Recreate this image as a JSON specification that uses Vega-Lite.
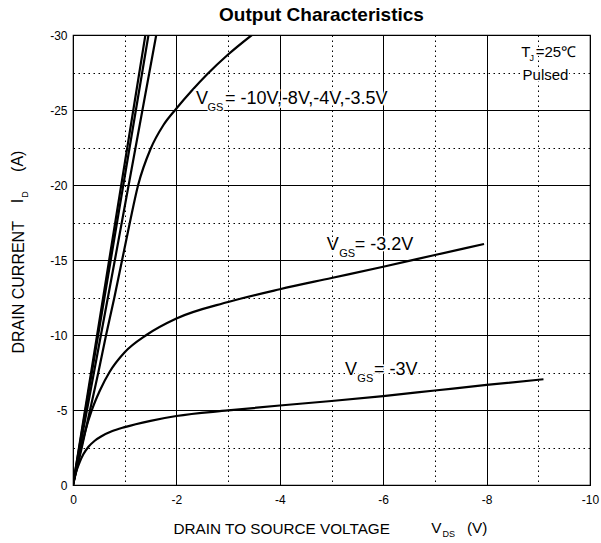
{
  "$schema": "https://vega.github.io/schema/vega-lite/v6.json",
  "width": 517,
  "height": 450,
  "autosize": {"type": "none"},
  "padding": {"left": 73, "top": 35, "right": 11, "bottom": 58},
  "background": "white",
  "title": {"text": "Output Characteristics", "fontSize": 19, "fontWeight": "bold", "font": "Liberation Sans", "color": "black", "dx": -10, "offset": 4, "anchor": "middle"},
  "config": {
    "view": {"stroke": "black", "strokeWidth": 1.2},
    "font": "Liberation Sans"
  },
  "datasets": {
    "curves": [
      {"series": "-10V", "vds": 0, "id": 0},
      {"series": "-10V", "vds": -0.70, "id": -15},
      {"series": "-10V", "vds": -1.40, "id": -30},
      {"series": "-8V", "vds": 0, "id": 0},
      {"series": "-8V", "vds": -0.73, "id": -15},
      {"series": "-8V", "vds": -1.46, "id": -30},
      {"series": "-4V", "vds": 0, "id": 0},
      {"series": "-4V", "vds": -0.81, "id": -15},
      {"series": "-4V", "vds": -1.61, "id": -30},
      {"series": "-3.5V", "vds": 0, "id": 0},
      {"series": "-3.5V", "vds": -0.17, "id": -2.5},
      {"series": "-3.5V", "vds": -0.33, "id": -5},
      {"series": "-3.5V", "vds": -0.49, "id": -7.5},
      {"series": "-3.5V", "vds": -0.64, "id": -10},
      {"series": "-3.5V", "vds": -0.80, "id": -12.5},
      {"series": "-3.5V", "vds": -0.95, "id": -15},
      {"series": "-3.5V", "vds": -1.10, "id": -17.5},
      {"series": "-3.5V", "vds": -1.26, "id": -20},
      {"series": "-3.5V", "vds": -1.50, "id": -22.4},
      {"series": "-3.5V", "vds": -1.75, "id": -24.0},
      {"series": "-3.5V", "vds": -2.00, "id": -25.1},
      {"series": "-3.5V", "vds": -2.30, "id": -26.3},
      {"series": "-3.5V", "vds": -2.60, "id": -27.4},
      {"series": "-3.5V", "vds": -3.00, "id": -28.7},
      {"series": "-3.5V", "vds": -3.46, "id": -30},
      {"series": "-3.2V", "vds": 0, "id": 0},
      {"series": "-3.2V", "vds": -0.10, "id": -1.6},
      {"series": "-3.2V", "vds": -0.23, "id": -3.5},
      {"series": "-3.2V", "vds": -0.36, "id": -4.95},
      {"series": "-3.2V", "vds": -0.52, "id": -6.3},
      {"series": "-3.2V", "vds": -0.71, "id": -7.55},
      {"series": "-3.2V", "vds": -1.00, "id": -8.85},
      {"series": "-3.2V", "vds": -1.42, "id": -10.0},
      {"series": "-3.2V", "vds": -2.00, "id": -11.1},
      {"series": "-3.2V", "vds": -3.00, "id": -12.2},
      {"series": "-3.2V", "vds": -4.00, "id": -13.05},
      {"series": "-3.2V", "vds": -5.00, "id": -13.8},
      {"series": "-3.2V", "vds": -6.00, "id": -14.55},
      {"series": "-3.2V", "vds": -7.00, "id": -15.33},
      {"series": "-3.2V", "vds": -7.95, "id": -16.07},
      {"series": "-3V", "vds": 0, "id": 0},
      {"series": "-3V", "vds": -0.05, "id": -0.75},
      {"series": "-3V", "vds": -0.12, "id": -1.45},
      {"series": "-3V", "vds": -0.20, "id": -2.05},
      {"series": "-3V", "vds": -0.30, "id": -2.55},
      {"series": "-3V", "vds": -0.42, "id": -2.95},
      {"series": "-3V", "vds": -0.56, "id": -3.27},
      {"series": "-3V", "vds": -0.75, "id": -3.58},
      {"series": "-3V", "vds": -1.00, "id": -3.86},
      {"series": "-3V", "vds": -1.50, "id": -4.28},
      {"series": "-3V", "vds": -2.00, "id": -4.6},
      {"series": "-3V", "vds": -3.00, "id": -4.97},
      {"series": "-3V", "vds": -4.00, "id": -5.3},
      {"series": "-3V", "vds": -5.00, "id": -5.6},
      {"series": "-3V", "vds": -6.00, "id": -5.93},
      {"series": "-3V", "vds": -7.00, "id": -6.3},
      {"series": "-3V", "vds": -8.00, "id": -6.67},
      {"series": "-3V", "vds": -9.10, "id": -7.05}
    ],
    "bigLabels": [
      {"vds": -2.38, "id": -25.4, "label": "V"},
      {"vds": -2.94, "id": -25.4, "label": "= -10V,-8V,-4V,-3.5V"},
      {"vds": -4.91, "id": -15.67, "label": "V"},
      {"vds": -5.45, "id": -15.67, "label": "= -3.2V"},
      {"vds": -5.26, "id": -7.33, "label": "V"},
      {"vds": -5.82, "id": -7.33, "label": "= -3V"}
    ],
    "bigSubs": [
      {"vds": -2.60, "id": -24.93, "label": "GS"},
      {"vds": -5.15, "id": -15.22, "label": "GS"},
      {"vds": -5.50, "id": -6.89, "label": "GS"}
    ],
    "cond": [
      {"vds": -8.67, "id": -28.53, "label": "T"},
      {"vds": -8.95, "id": -28.53, "label": "=25℃"}
    ],
    "condSub": [
      {"vds": -8.83, "id": -28.3, "label": "J"}
    ],
    "pulsed": [
      {"vds": -9.14, "id": -27.0, "label": "Pulsed"}
    ],
    "xTitleParts": [
      {"vds": -6.93, "id": 3.2, "label": "V"},
      {"vds": -7.62, "id": 3.2, "label": "(V)"}
    ],
    "xSub": [
      {"vds": -7.27, "id": 3.47, "label": "DS"}
    ],
    "yTitleParts": [
      {"vds": 0.967, "id": -18.79, "label": "I"},
      {"vds": 0.967, "id": -20.87, "label": "(A)"}
    ],
    "ySub": [
      {"vds": 0.87, "id": -19.37, "label": "D"}
    ]
  },
  "encoding": {
    "x": {
      "field": "vds", "type": "quantitative",
      "scale": {"domain": [0, -10], "nice": false, "zero": false},
      "axis": {
        "values": [0, -1, -2, -3, -4, -5, -6, -7, -8, -9, -10],
        "grid": true, "gridColor": "black", "gridOpacity": 1, "gridWidth": 1,
        "gridDash": {"condition": {"test": "datum.value % 2 === 0", "value": []}, "value": [1.5, 3.5]},
        "ticks": false, "tickSize": 0, "domain": false,
        "labelExpr": "datum.value % 2 === 0 ? '' + datum.value : ''",
        "labelFont": "Liberation Sans", "labelFontSize": 12, "labelColor": "black",
        "labelBaseline": "alphabetic", "labelPadding": 18, "labelFlush": false, "labelOverlap": false,
        "title": "DRAIN TO SOURCE VOLTAGE",
        "titleFont": "Liberation Sans", "titleFontSize": 15.3, "titleFontWeight": "normal", "titleColor": "black",
        "titleBaseline": "alphabetic", "titleAlign": "left", "titleX": 100, "titleY": 48
      }
    },
    "y": {
      "field": "id", "type": "quantitative",
      "scale": {"domain": [0, -30], "nice": false, "zero": false},
      "axis": {
        "values": [0, -2.5, -5, -7.5, -10, -12.5, -15, -17.5, -20, -22.5, -25, -27.5, -30],
        "grid": true, "gridColor": "black", "gridOpacity": 1, "gridWidth": 1,
        "gridDash": {"condition": {"test": "datum.value % 5 === 0", "value": []}, "value": [1.5, 3.5]},
        "ticks": false, "tickSize": 0, "domain": false,
        "labelExpr": "datum.value % 5 === 0 ? '' + datum.value : ''",
        "labelFont": "Liberation Sans", "labelFontSize": 12, "labelColor": "black",
        "labelPadding": 6, "labelFlush": false, "labelOverlap": false,
        "title": "DRAIN CURRENT",
        "titleFont": "Liberation Sans", "titleFontSize": 16, "titleFontWeight": "normal", "titleColor": "black",
        "titleAngle": 270, "titleBaseline": "alphabetic", "titleAlign": "left", "titleX": -50, "titleY": 318
      }
    }
  },
  "layer": [
    {
      "data": {"name": "curves"},
      "mark": {"type": "line", "color": "black", "strokeWidth": 2.2, "interpolate": "monotone", "clip": true},
      "encoding": {"detail": {"field": "series", "type": "nominal"}}
    },
    {
      "data": {"name": "bigLabels"},
      "mark": {"type": "text", "align": "left", "baseline": "alphabetic", "fontSize": 18, "font": "Liberation Sans", "color": "white", "stroke": "white", "strokeWidth": 3},
      "encoding": {"text": {"field": "label"}}
    },
    {
      "data": {"name": "bigSubs"},
      "mark": {"type": "text", "align": "left", "baseline": "alphabetic", "fontSize": 11, "font": "Liberation Sans", "color": "white", "stroke": "white", "strokeWidth": 3},
      "encoding": {"text": {"field": "label"}}
    },
    {
      "data": {"name": "cond"},
      "mark": {"type": "text", "align": "left", "baseline": "alphabetic", "fontSize": 15, "font": "Liberation Sans", "color": "white", "stroke": "white", "strokeWidth": 3},
      "encoding": {"text": {"field": "label"}}
    },
    {
      "data": {"name": "pulsed"},
      "mark": {"type": "text", "align": "center", "baseline": "alphabetic", "fontSize": 15, "font": "Liberation Sans", "color": "white", "stroke": "white", "strokeWidth": 3},
      "encoding": {"text": {"field": "label"}}
    },
    {
      "data": {"name": "bigLabels"},
      "mark": {"type": "text", "align": "left", "baseline": "alphabetic", "fontSize": 18, "font": "Liberation Sans", "color": "black"},
      "encoding": {"text": {"field": "label"}}
    },
    {
      "data": {"name": "bigSubs"},
      "mark": {"type": "text", "align": "left", "baseline": "alphabetic", "fontSize": 11, "font": "Liberation Sans", "color": "black"},
      "encoding": {"text": {"field": "label"}}
    },
    {
      "data": {"name": "cond"},
      "mark": {"type": "text", "align": "left", "baseline": "alphabetic", "fontSize": 15, "font": "Liberation Sans", "color": "black"},
      "encoding": {"text": {"field": "label"}}
    },
    {
      "data": {"name": "condSub"},
      "mark": {"type": "text", "align": "left", "baseline": "alphabetic", "fontSize": 9, "font": "Liberation Sans", "color": "black"},
      "encoding": {"text": {"field": "label"}}
    },
    {
      "data": {"name": "pulsed"},
      "mark": {"type": "text", "align": "center", "baseline": "alphabetic", "fontSize": 15, "font": "Liberation Sans", "color": "black"},
      "encoding": {"text": {"field": "label"}}
    },
    {
      "data": {"name": "xTitleParts"},
      "mark": {"type": "text", "align": "left", "baseline": "alphabetic", "fontSize": 15.3, "font": "Liberation Sans", "color": "black"},
      "encoding": {"text": {"field": "label"}}
    },
    {
      "data": {"name": "xSub"},
      "mark": {"type": "text", "align": "center", "baseline": "alphabetic", "fontSize": 9, "font": "Liberation Sans", "color": "black"},
      "encoding": {"text": {"field": "label"}}
    },
    {
      "data": {"name": "yTitleParts"},
      "mark": {"type": "text", "align": "left", "baseline": "alphabetic", "angle": 270, "fontSize": 16, "font": "Liberation Sans", "color": "black"},
      "encoding": {"text": {"field": "label"}}
    },
    {
      "data": {"name": "ySub"},
      "mark": {"type": "text", "align": "center", "baseline": "alphabetic", "angle": 270, "fontSize": 9, "font": "Liberation Sans", "color": "black"},
      "encoding": {"text": {"field": "label"}}
    }
  ]
}
